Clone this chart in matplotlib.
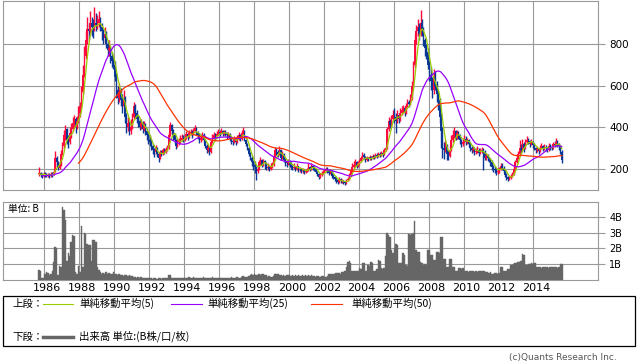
import matplotlib
matplotlib.use("Agg")
import matplotlib.pyplot as plt
import matplotlib.transforms as mtransforms
from matplotlib.patches import Rectangle
from matplotlib.lines import Line2D
import numpy as np
import pandas as pd

# monthly closes Nov 1983 - Aug 1985: not drawn, only warm up the moving averages
pre_close = [150, 155, 150, 160, 165, 160, 155, 160, 165, 170, 165,
             160, 170, 175, 170, 165, 160, 165, 170, 175, 170, 175]

# monthly closes, Sep 1985 - Aug 2015
close = [
    180, 170, 165, 175,                                              # 1985 Sep-Dec
    170, 168, 172, 165, 175, 170, 185, 250, 230, 205, 220, 270,      # 1986
    310, 360, 390, 340, 330, 370, 390, 420, 440, 400, 430, 470,      # 1987
    500, 570, 650, 740, 820, 870, 860, 900, 880, 870, 900, 890,      # 1988
    900, 920, 880, 860, 830, 850, 800, 770, 780, 740, 720, 700,      # 1989
    640, 580, 540, 570, 530, 500, 540, 450, 400, 420, 380, 400,      # 1990
    450, 500, 470, 440, 430, 400, 420, 390, 410, 380, 360, 340,      # 1991
    330, 310, 290, 280, 300, 270, 250, 280, 270, 290, 280, 295,      # 1992
    300, 360, 410, 380, 360, 340, 310, 330, 330, 340, 350, 345,      # 1993
    350, 365, 355, 370, 375, 365, 380, 395, 370, 360, 340, 350,      # 1994
    360, 340, 310, 290, 300, 280, 330, 350, 360, 355, 365, 375,      # 1995
    370, 380, 365, 375, 370, 360, 365, 345, 335, 330, 345, 330,      # 1996
    350, 360, 345, 370, 380, 340, 320, 300, 270, 250, 230, 220,      # 1997
    210, 190, 200, 230, 240, 220, 235, 225, 205, 210, 200, 215,      # 1998
    220, 260, 290, 280, 270, 290, 250, 270, 240, 230, 225, 235,      # 1999
    220, 215, 205, 210, 200, 215, 195, 200, 190, 195, 185, 190,      # 2000
    195, 210, 200, 215, 205, 200, 185, 175, 160, 170, 180, 185,      # 2001
    190, 200, 195, 180, 190, 165, 160, 150, 145, 135, 150, 140,      # 2002
    140, 135, 130, 145, 150, 170, 190, 210, 220, 230, 215, 225,      # 2003
    235, 250, 265, 255, 240, 250, 245, 255, 250, 260, 255, 265,      # 2004
    260, 270, 265, 275, 270, 290, 300, 390, 430, 410, 440, 460,      # 2005
    450, 430, 460, 440, 470, 480, 490, 470, 500, 520, 510, 540,      # 2006
    600, 700, 820, 860, 880, 850, 900, 870, 820, 780, 760, 700,      # 2007
    650, 620, 580, 640, 600, 560, 530, 450, 380, 300, 290, 310,      # 2008
    270, 260, 290, 340, 360, 380, 350, 370, 360, 340, 320, 330,      # 2009
    345, 330, 340, 320, 300, 290, 295, 280, 285, 290, 275, 285,      # 2010
    290, 280, 250, 260, 250, 240, 230, 210, 200, 195, 185, 190,      # 2011
    200, 215, 205, 190, 170, 160, 150, 155, 165, 175, 200, 230,      # 2012
    250, 270, 300, 290, 320, 300, 330, 340, 335, 320, 330, 315,      # 2013
    300, 290, 295, 285, 300, 310, 295, 305, 300, 290, 310, 305,      # 2014
    300, 320, 315, 330, 320, 310, 280, 240,                          # 2015 Jan-Aug
]

high = [
    210, 185, 178, 182,
    185, 178, 180, 178, 185, 182, 200, 285, 260, 235, 235, 290,
    330, 385, 410, 395, 360, 400, 420, 450, 460, 450, 455, 500,
    520, 600, 700, 790, 860, 930, 900, 960, 930, 920, 980, 950,
    940, 960, 930, 900, 870, 880, 860, 820, 820, 790, 760, 740,
    720, 660, 600, 610, 590, 560, 580, 550, 470, 450, 430, 440,
    470, 520, 510, 480, 460, 440, 440, 430, 430, 420, 395, 370,
    360, 345, 320, 300, 315, 305, 280, 290, 290, 300, 300, 305,
    315, 375, 425, 415, 390, 370, 345, 345, 350, 360, 365, 360,
    365, 380, 375, 385, 390, 385, 395, 410, 400, 380, 370, 365,
    375, 370, 345, 320, 315, 305, 340, 365, 375, 370, 380, 390,
    385, 395, 385, 385, 385, 375, 375, 370, 355, 345, 355, 350,
    360, 375, 365, 385, 400, 385, 345, 325, 305, 280, 260, 240,
    235, 215, 210, 240, 255, 245, 245, 240, 230, 225, 215, 225,
    230, 270, 305, 300, 290, 310, 295, 285, 275, 250, 240, 245,
    240, 230, 220, 225, 215, 225, 215, 210, 205, 205, 200, 200,
    205, 225, 215, 225, 220, 215, 205, 190, 180, 180, 190, 195,
    200, 210, 210, 200, 200, 195, 175, 165, 160, 150, 160, 155,
    150, 145, 140, 150, 160, 180, 200, 225, 235, 245, 235, 235,
    245, 260, 280, 275, 260, 260, 255, 265, 262, 270, 265, 275,
    275, 280, 280, 285, 285, 300, 310, 400, 450, 440, 460, 480,
    490, 470, 480, 470, 490, 500, 505, 500, 515, 535, 530, 560,
    620, 720, 850, 890, 920, 900, 965, 920, 880, 830, 800, 780,
    720, 690, 640, 680, 670, 620, 580, 540, 470, 400, 330, 340,
    320, 290, 310, 360, 385, 400, 385, 385, 380, 365, 345, 345,
    360, 355, 350, 345, 330, 310, 310, 305, 300, 310, 300, 300,
    305, 300, 290, 275, 270, 255, 250, 240, 220, 215, 205, 205,
    210, 225, 225, 215, 195, 180, 165, 165, 175, 185, 215, 240,
    270, 285, 340, 320, 345, 330, 345, 355, 350, 340, 345, 335,
    325, 305, 305, 300, 315, 325, 315, 320, 315, 305, 325, 320,
    315, 330, 335, 350, 340, 325, 315, 290,
]

low = [
    165, 160, 155, 160,
    160, 158, 160, 155, 160, 160, 168, 185, 210, 195, 200, 215,
    265, 300, 340, 320, 300, 320, 350, 380, 400, 370, 390, 420,
    450, 490, 560, 640, 730, 800, 820, 850, 840, 830, 860, 860,
    870, 880, 860, 820, 800, 810, 780, 740, 740, 710, 690, 680,
    620, 540, 510, 520, 500, 470, 490, 420, 370, 380, 360, 365,
    390, 440, 450, 420, 400, 385, 390, 370, 380, 360, 340, 320,
    310, 290, 270, 255, 270, 255, 230, 245, 260, 265, 270, 275,
    285, 295, 355, 365, 340, 320, 295, 305, 315, 325, 335, 330,
    335, 345, 340, 350, 360, 350, 360, 375, 360, 345, 325, 330,
    340, 325, 300, 275, 280, 265, 275, 325, 345, 340, 350, 360,
    355, 365, 355, 360, 355, 345, 350, 335, 320, 315, 325, 315,
    325, 340, 335, 340, 365, 335, 310, 290, 260, 240, 215, 195,
    180, 145, 180, 195, 220, 210, 215, 200, 195, 195, 190, 195,
    205, 215, 255, 265, 255, 265, 240, 245, 230, 215, 210, 220,
    210, 200, 195, 200, 190, 195, 185, 185, 180, 180, 175, 178,
    185, 190, 190, 195, 195, 190, 180, 165, 150, 155, 165, 175,
    180, 185, 180, 170, 175, 155, 150, 140, 130, 125, 130, 130,
    130, 125, 122, 128, 140, 148, 165, 185, 205, 215, 205, 210,
    220, 230, 245, 245, 230, 235, 235, 240, 240, 245, 245, 250,
    250, 255, 255, 260, 258, 265, 285, 295, 380, 395, 405, 430,
    420, 370, 420, 420, 430, 460, 470, 455, 465, 495, 495, 505,
    530, 590, 690, 800, 840, 820, 840, 840, 790, 740, 730, 680,
    620, 580, 540, 560, 580, 520, 480, 420, 300, 250, 245, 280,
    240, 240, 255, 285, 330, 350, 340, 345, 345, 320, 305, 310,
    325, 315, 320, 305, 285, 275, 280, 265, 270, 275, 260, 270,
    275, 195, 240, 240, 235, 230, 215, 195, 185, 180, 170, 175,
    180, 195, 195, 180, 160, 148, 142, 145, 150, 160, 170, 195,
    225, 245, 265, 275, 285, 280, 295, 320, 320, 305, 315, 300,
    290, 275, 280, 270, 282, 295, 285, 290, 285, 280, 285, 292,
    290, 295, 305, 310, 305, 290, 270, 225,
]

# monthly volume in B, Sep 1985 - Aug 2015
volume = [
    0.65, 0.55, 0.1, 0.15,
    0.35, 0.5, 0.45, 0.3, 0.35, 0.6, 1.15, 2.1, 2.0, 0.3, 0.9, 0.8,
    4.6, 4.4, 3.8, 1.2, 1.7, 1.5, 2.4, 2.85, 2.8, 0.5, 0.4, 0.9,
    0.5, 3.4, 0.85, 2.95, 2.9, 2.3, 2.2, 2.2, 1.2, 2.5, 2.5, 2.4,
    0.85, 0.65, 0.5, 0.4, 0.45, 0.35, 0.5, 0.4, 0.45, 0.35, 0.4, 0.5,
    0.35, 0.4, 0.3, 0.35, 0.3, 0.3, 0.25, 0.3, 0.3, 0.25, 0.3, 0.25,
    0.25, 0.2, 0.2, 0.15, 0.2, 0.15, 0.2, 0.15, 0.15, 0.1, 0.15, 0.1,
    0.1, 0.1, 0.08, 0.1, 0.1, 0.08, 0.1, 0.1, 0.08, 0.1, 0.1, 0.1,
    0.1, 0.3, 0.3, 0.15, 0.15, 0.12, 0.15, 0.15, 0.12, 0.15, 0.15, 0.15,
    0.15, 0.15, 0.15, 0.18, 0.15, 0.15, 0.2, 0.15, 0.15, 0.12, 0.15, 0.15,
    0.15, 0.18, 0.15, 0.12, 0.15, 0.15, 0.12, 0.18, 0.15, 0.15, 0.12, 0.15,
    0.15, 0.12, 0.15, 0.15, 0.12, 0.15, 0.15, 0.12, 0.18, 0.15, 0.15, 0.12,
    0.2, 0.15, 0.15, 0.2, 0.25, 0.2, 0.2, 0.18, 0.25, 0.3, 0.35, 0.3,
    0.35, 0.3, 0.3, 0.35, 0.3, 0.35, 0.4, 0.3, 0.3, 0.2, 0.25, 0.2,
    0.2, 0.25, 0.35, 0.4, 0.35, 0.3, 0.3, 0.25, 0.3, 0.25, 0.3, 0.3,
    0.3, 0.25, 0.3, 0.25, 0.3, 0.25, 0.3, 0.25, 0.25, 0.3, 0.25, 0.3,
    0.25, 0.3, 0.25, 0.3, 0.25, 0.25, 0.2, 0.25, 0.25, 0.2, 0.25, 0.25,
    0.2, 0.2, 0.25, 0.4, 0.4, 0.4, 0.4, 0.4, 0.45, 0.45, 0.45, 0.4,
    0.5, 0.5, 0.55, 0.85, 1.15, 1.2, 1.1, 0.6, 0.6, 0.55, 0.6, 0.55,
    0.75, 0.7, 1.1, 1.1, 0.6, 0.6, 0.95, 0.9, 1.15, 1.1, 0.6, 0.6,
    0.7, 1.25, 1.2, 0.75, 0.7, 0.75, 1.5, 3.0, 2.85, 2.75, 1.9, 1.7,
    2.0, 2.3, 2.2, 1.1, 1.05, 1.1, 1.7, 1.6, 0.95, 0.9, 2.9, 2.85,
    2.9, 3.0, 3.7, 1.9, 1.8, 1.8, 1.15, 1.1, 0.95, 1.0, 0.95, 1.9,
    1.9, 1.6, 1.6, 1.25, 1.25, 1.8, 1.8, 1.7, 2.7, 2.7, 1.35, 1.35,
    0.85, 0.85, 1.3, 1.3, 0.85, 0.85, 0.6, 0.6, 0.75, 0.75, 0.7, 0.75,
    0.6, 0.55, 0.55, 0.5, 0.55, 0.6, 0.55, 0.5, 0.55, 0.5, 0.55, 0.6,
    0.55, 0.55, 0.6, 0.5, 0.5, 0.45, 0.5, 0.4, 0.4, 0.45, 0.45, 0.4,
    0.45, 0.85, 0.8, 0.6, 0.6, 0.55, 0.7, 0.7, 0.95, 0.95, 1.0, 1.1,
    1.1, 1.15, 1.15, 1.2, 1.65, 1.6, 0.95, 0.95, 1.0, 1.0, 1.05, 1.0,
    1.05, 1.05, 0.85, 0.8, 0.8, 0.75, 0.8, 0.85, 0.8, 0.8, 0.75, 0.8,
    0.8, 0.8, 0.85, 0.8, 0.75, 0.8, 1.0, 1.0,
]

year_ticks = list(range(1986, 2016, 2))
price_ticks = [200, 400, 600, 800]
vol_ticks = [1, 2, 3, 4]
vol_labels = ["1B", "2B", "3B", "4B"]
ma_windows = [5, 25, 50]
ma_colors = ["#99cc00", "#9900ff", "#ff3300"]
ma_labels = ["単純移動平均(5)", "単純移動平均(25)", "単純移動平均(50)"]

jp = ["Noto Sans CJK JP", "DejaVu Sans"]
grid_c = "#999999"
up_c, down_c = "#ff0a3c", "#0a3796"

months = pd.date_range("1985-09-01", periods=len(close), freq="MS")
x = months.year + (months.month - 0.5) / 12.0

n_pre = len(pre_close)
full = pd.Series(pre_close + close, dtype=float)
opens = np.array([pre_close[-1]] + close[:-1], dtype=float)
closes = np.array(close, dtype=float)
highs = np.maximum(np.array(high, dtype=float), np.maximum(opens, closes))
lows = np.minimum(np.array(low, dtype=float), np.minimum(opens, closes))

W, H = 638, 362
fig = plt.figure(figsize=(W / 100, H / 100), dpi=100)

def fx(px):
    return px / W

def fy(py):
    return 1 - py / H

ax = fig.add_axes([fx(3.3), fy(190), fx(595), 189.5 / H])
ax2 = fig.add_axes([fx(3.3), fy(280), fx(595), 78.3 / H], sharex=ax)

# candles (open = previous close)
up = closes >= opens
cols = np.where(up, up_c, down_c)
ax.vlines(x, lows, highs, colors=cols, lw=1.0, zorder=3)
bottoms = np.minimum(opens, closes)
heights = np.maximum(np.abs(closes - opens), 4)
ax.bar(x, heights, bottom=bottoms, width=0.085, color=cols, linewidth=0, zorder=3)

# moving averages
for w, c in zip(ma_windows, ma_colors):
    ma = full.rolling(w).mean().to_numpy()[n_pre:]
    ax.plot(x, ma, color=c, lw=0.9, zorder=4)

ax.set_xlim(1983.657, 2017.714)
ax.set_ylim(97.5, 1009)
ax.set_yticks(price_ticks)
ax.yaxis.tick_right()
ax.tick_params(axis="y", length=5, width=0.8, color=grid_c, pad=3, labelsize=7.5)
ax.tick_params(axis="x", length=0, labelbottom=False)
ax.set_xticks(year_ticks)
ax.grid(True, color=grid_c, lw=0.8)
ax.set_axisbelow(True)
for s in ax.spines.values():
    s.set_color(grid_c)
    s.set_linewidth(0.8)

# volume
ax2.bar(x, volume, width=1 / 12, color="#666666", edgecolor="#666666", linewidth=0.3, zorder=3)
ax2.set_ylim(0, 4.95)
ax2.set_yticks(vol_ticks)
ax2.set_yticklabels(vol_labels)
ax2.yaxis.tick_right()
ax2.tick_params(axis="y", length=5, width=0.8, color=grid_c, pad=3, labelsize=7)
ax2.set_xticks(year_ticks)
ax2.set_xticklabels([str(y) for y in year_ticks])
ax2.tick_params(axis="x", length=0, pad=2, labelsize=8)
offset = mtransforms.ScaledTranslation(3 / 100, 0, fig.dpi_scale_trans)
for lab in ax2.get_xticklabels():
    lab.set_transform(lab.get_transform() + offset)
ax2.grid(True, color=grid_c, lw=0.8)
ax2.set_axisbelow(True)
for s in ax2.spines.values():
    s.set_color(grid_c)
    s.set_linewidth(0.8)
ax2.text(fx(8), fy(209), "単位: B", transform=fig.transFigure, family=jp,
         fontsize=7, va="center", ha="left")

# legend box
fig.add_artist(Rectangle((fx(3.3), fy(346)), fx(631.7), 50.3 / H,
                         transform=fig.transFigure, fill=False, ec="black", lw=0.9))
fig.text(fx(12), fy(303.5), "上段：", family=jp, fontsize=7.5, va="center")
line_x = [(43, 73), (171, 202), (311, 342)]
text_x = [79, 207, 351]
for (x0, x1), tx, c, lab in zip(line_x, text_x, ma_colors, ma_labels):
    fig.add_artist(Line2D([fx(x0), fx(x1)], [fy(303.5), fy(303.5)], color=c, lw=0.8,
                          transform=fig.transFigure))
    fig.text(fx(tx), fy(303.5), lab, family=jp, fontsize=7.5, va="center")
fig.text(fx(12), fy(336.5), "下段：", family=jp, fontsize=7.5, va="center")
fig.add_artist(Line2D([fx(43), fx(73)], [fy(336.5), fy(336.5)], color="#666666", lw=2.5,
                      transform=fig.transFigure))
fig.text(fx(79), fy(336.5), "出来高 単位:(B株/口/枚)", family=jp, fontsize=7.5, va="center")

fig.text(fx(617), fy(357.5), "(c)Quants Research Inc.", fontsize=6.5, color="#555555",
         ha="right", va="center")

fig.savefig("out.png", dpi=100)
